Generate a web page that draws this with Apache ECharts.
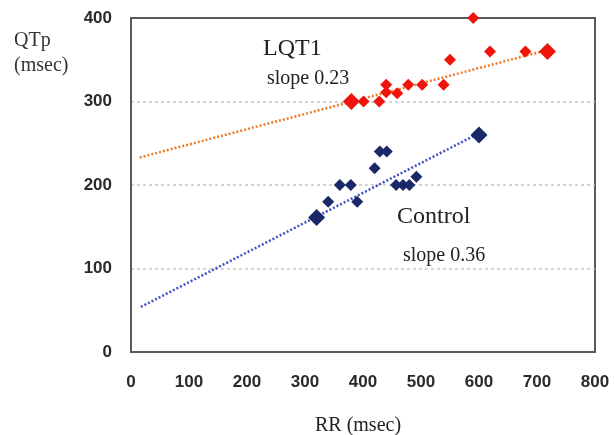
<!DOCTYPE html>
<html>
<head>
<meta charset="utf-8">
<script src="https://cdn.jsdelivr.net/npm/echarts@6/dist/echarts.min.js"></script>
<style>
html, body { margin: 0; padding: 0; background: #fff; }
#main { width: 614px; height: 435px; }
</style>
</head>
<body>
<div id="main"></div>
<script>
// RR (msec), QTp (msec)
var lqt1 = [[401, 300], [428, 300], [440, 320], [440, 311], [459, 310], [478, 320],
    [502, 320], [539, 320], [550, 350], [590, 400], [619, 360], [680, 360]];
var lqt1Big = [[380, 300], [718, 360]];
var control = [[340, 180], [360, 200], [379, 200], [390, 180], [420, 220], [429, 240],
    [441, 240], [457, 200], [469, 200], [480, 200], [492, 210]];
var controlBig = [[320, 161], [600, 260]];
// regression lines
var lqt1Fit = [[15, 233], [720, 362]];
var controlFit = [[17, 54], [600, 262]];
var xTicks = [0, 800, 100];
var yTicks = [0, 400, 100];

var serif = '"Liberation Serif", "DejaVu Serif", serif';
var red = '#f0140c';
var navy = '#1a2868';

var myChart = echarts.init(document.getElementById('main'));
var option = {
    animation: false,
    grid: {
        left: 131,
        right: 19,
        top: 18,
        bottom: 83,
        outerBoundsMode: 'none',
        show: true,
        borderColor: '#5a5a5a',
        borderWidth: 2
    },
    xAxis: {
        type: 'value',
        min: xTicks[0],
        max: xTicks[1],
        interval: xTicks[2],
        name: 'RR (msec)',
        nameLocation: 'middle',
        nameGap: 64,
        nameTextStyle: { fontFamily: serif, fontSize: 20, color: '#222', padding: [0, 10, 0, 0] },
        axisLine: { lineStyle: { color: '#5a5a5a', width: 2 } },
        axisTick: { show: false },
        splitLine: { show: false },
        axisLabel: {
            margin: 22,
            fontFamily: '"Liberation Sans", Arial, sans-serif',
            fontWeight: 'bold',
            fontSize: 17,
            color: '#2a2a2a'
        }
    },
    yAxis: {
        type: 'value',
        min: yTicks[0],
        max: yTicks[1],
        interval: yTicks[2],
        axisLine: { show: true, lineStyle: { color: '#5a5a5a', width: 2 } },
        axisTick: { show: false },
        splitLine: {
            show: true,
            showMinLine: false,
            showMaxLine: false,
            lineStyle: { color: '#c8c8c8', type: [3, 3], width: 1.5 }
        },
        axisLabel: {
            margin: 19,
            fontFamily: '"Liberation Sans", Arial, sans-serif',
            fontWeight: 'bold',
            fontSize: 17,
            color: '#2a2a2a'
        }
    },
    graphic: [
        { type: 'text', left: 14, top: 28, style: { text: 'QTp\n(msec)', font: '20px ' + serif, fill: '#333', lineHeight: 25 } },
        { type: 'text', left: 263, top: 37, style: { text: 'LQT1', font: '24px ' + serif, fill: '#222' } },
        { type: 'text', left: 267, top: 69, style: { text: 'slope 0.23', font: '20px ' + serif, fill: '#222' } },
        { type: 'text', left: 397, top: 205, style: { text: 'Control', font: '24px ' + serif, fill: '#222' } },
        { type: 'text', left: 403, top: 246, style: { text: 'slope 0.36', font: '20px ' + serif, fill: '#222' } }
    ],
    series: [
        {
            type: 'line',
            data: lqt1Fit,
            symbol: 'none',
            lineStyle: { color: '#f07a2a', width: 2.5, type: [2, 2] },
            z: 1
        },
        {
            type: 'line',
            data: controlFit,
            symbol: 'none',
            lineStyle: { color: '#3d52c4', width: 2.5, type: [2, 2] },
            z: 1
        },
        {
            type: 'scatter',
            data: lqt1,
            symbol: 'diamond',
            symbolSize: 12,
            itemStyle: { color: red, opacity: 1 },
            z: 3
        },
        {
            type: 'scatter',
            data: lqt1Big,
            symbol: 'diamond',
            symbolSize: 17,
            itemStyle: { color: red, opacity: 1 },
            z: 3
        },
        {
            type: 'scatter',
            data: control,
            symbol: 'diamond',
            symbolSize: 12,
            itemStyle: { color: navy, opacity: 1 },
            z: 3
        },
        {
            type: 'scatter',
            data: controlBig,
            symbol: 'diamond',
            symbolSize: 17,
            itemStyle: { color: navy, opacity: 1 },
            z: 3
        }
    ]
};
myChart.setOption(option);
</script>
</body>
</html>
